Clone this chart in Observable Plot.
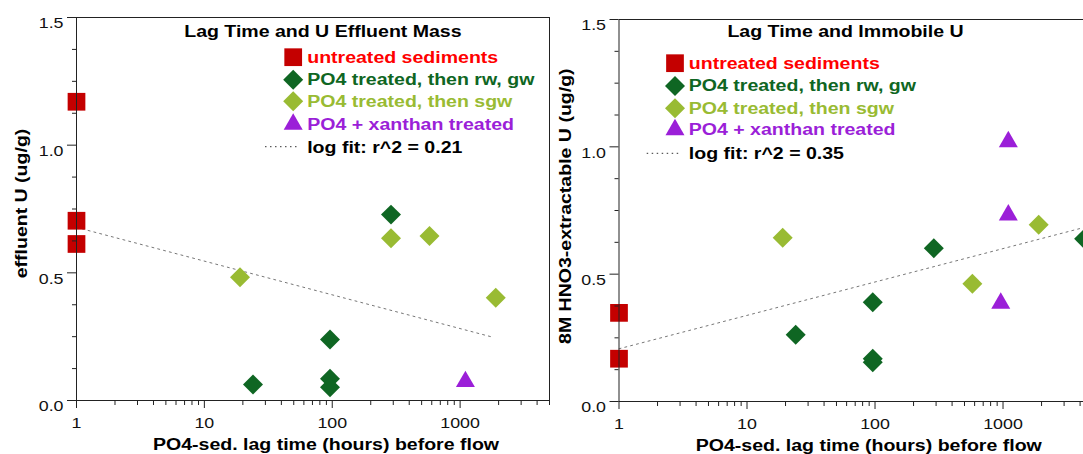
<!DOCTYPE html>
<html><head><meta charset="utf-8">
<script src="https://cdn.jsdelivr.net/npm/d3@7"></script>
<script src="https://cdn.jsdelivr.net/npm/@observablehq/plot@0.6"></script>
<style>
html,body{margin:0;padding:0;background:#fff;overflow:hidden;width:1083px;height:454px;}
#wrap{position:relative;width:1083px;height:454px;overflow:hidden;background:#fff;}
#left{position:absolute;left:0;top:0;width:551px;height:454px;}
#right{position:absolute;left:540px;top:0;width:560px;height:454px;}
#wrap svg{max-width:none !important;background:transparent;}
</style></head><body><div id="wrap"><div id="left"></div><div id="right"></div></div>
<script>
// ---------- shared series definitions ----------
const seriesNames = ["untreated sediments", "PO4 treated, then rw, gw", "PO4 treated, then sgw", "PO4 + xanthan treated"];
const seriesSymbols = ["square", "diamond2", "diamond2", "triangle"];
const markerColors = ["#c40000", "#0f6623", "#99bb33", "#9b1fd8"];
const labelColors = ["#ff0000", "#0f6623", "#99bb33", "#9b1fd8"];

// ---------- left panel: Lag Time and U Effluent Mass ----------
const effUntreatedLag = [1, 1, 1];
const effUntreatedU = [1.170, 0.704, 0.613];
const effRwGwLag = [288, 96, 96, 96, 24];
const effRwGwU = [0.728, 0.239, 0.085, 0.052, 0.063];
const effSgwLag = [19, 288, 576, 1900];
const effSgwU = [0.483, 0.635, 0.644, 0.402];
const effXanLag = [1100];
const effXanU = [0.074];
const effFitLag = [1, 1800];
const effFitU = [0.678, 0.248];
const effFitLabel = "log fit: r^2 = 0.21";

// ---------- right panel: Lag Time and Immobile U ----------
const immUntreatedLag = [1, 1];
const immUntreatedU = [0.348, 0.168];
const immRwGwLag = [24, 96, 96, 96, 288, 4300];
const immRwGwU = [0.262, 0.390, 0.168, 0.154, 0.602, 0.639];
const immSgwLag = [19, 576, 1900];
const immSgwU = [0.643, 0.462, 0.694];
const immXanLag = [1100, 1100, 960];
const immXanU = [1.020, 0.732, 0.386];
const immFitLag = [1, 5000];
const immFitU = [0.207, 0.692];
const immFitLabel = "log fit: r^2 = 0.35";

// ---------- ticks ----------
const yMajor = [0, 0.5, 1.0, 1.5];
const yTickLabels = ["0.0", "0.5", "1.0", "1.5"];
const yMinor = [0.125, 0.25, 0.375, 0.625, 0.75, 0.875, 1.125, 1.25, 1.375];
const xMajor = [1, 10, 100, 1000];
const xTickLabels = ["1", "10", "100", "1000"];
const xMinor = [2, 3, 4, 5, 6, 7, 8, 9, 20, 30, 40, 50, 60, 70, 80, 90,
  200, 300, 400, 500, 600, 700, 800, 900, 2000, 3000, 4000, 5000];
const xDomain = [1, 5000];
const yDomain = [0, 1.5];
const xTitle = "PO4-sed. lag time (hours) before flow";

const FONT = "'Liberation Sans', Arial, Helvetica, sans-serif";
const rBySymbol = {square: 10, diamond2: 9, triangle: 7.05};

function zipRows(xs, ys) { return xs.map((x, i) => ({x, y: ys[i]})); }

function stretchText(svg, k) {
  svg.querySelectorAll("text").forEach(t => {
    if (t.textContent.trim() === "") { t.remove(); return; }
    const tr = t.getAttribute("transform");
    if (tr) t.setAttribute("transform", tr + ` scale(${k},1)`);
    else {
      const x = +t.getAttribute("x") || 0, y = +t.getAttribute("y") || 0;
      t.removeAttribute("x"); t.removeAttribute("y");
      t.setAttribute("transform", `translate(${x},${y}) scale(${k},1)`);
    }
  });
}

function makePanel(p) {
  const marks = [];
  // fit line
  marks.push(Plot.line(zipRows(p.fit[0], p.fit[1]), {x: "x", y: "y", stroke: "#777", strokeWidth: 1, strokeDasharray: "2,4"}));
  // data points
  p.groups.forEach((g, i) => {
    const sym = seriesSymbols[i];
    marks.push(Plot.dot(zipRows(g[0], g[1]), {x: "x", y: "y", symbol: sym, r: rBySymbol[sym], fill: markerColors[i], stroke: "none"}));
  });
  // frame and axes
  marks.push(Plot.frame({stroke: "#222", strokeWidth: 1}));
  marks.push(Plot.axisY(yMajor, {tickSize: 9, tickFormat: () => "", label: null, stroke: "#222"}));
  marks.push(Plot.axisY(yMinor, {tickSize: 4, tickFormat: () => "", label: null, stroke: "#222"}));
  marks.push(Plot.axisX(xMajor, {tickSize: 8, tickFormat: () => "", label: null, stroke: "#222"}));
  marks.push(Plot.axisX(xMinor, {tickSize: 5, tickFormat: () => "", label: null, stroke: "#222"}));
  marks.push(Plot.text(yMajor, {y: d => d, text: (d, i) => yTickLabels[i], frameAnchor: "left", textAnchor: "end", lineAnchor: "middle", dx: -13, dy: 6, fontSize: 15.5, fill: "#111"}));
  marks.push(Plot.text(xMajor, {x: d => d, text: (d, i) => xTickLabels[i], frameAnchor: "bottom", textAnchor: "middle", lineAnchor: "middle", dy: 22.5, fontSize: 15.5, fill: "#111"}));
  // axis titles
  marks.push(Plot.text([p.ylabel], {text: d => d, frameAnchor: "left", textAnchor: "middle", lineAnchor: "middle", rotate: -90, dx: p.ylabelDx, dy: p.ylabelDy, fontSize: 17, fontWeight: "bold", fill: "#000"}));
  marks.push(Plot.text([xTitle], {text: d => d, frameAnchor: "bottom", textAnchor: "middle", lineAnchor: "middle", dx: 13, dy: 44, fontSize: 17, fontWeight: "bold", fill: "#000"}));
  // chart title
  marks.push(Plot.text([p.title], {text: d => d, frameAnchor: "top-left", textAnchor: "middle", lineAnchor: "middle", dx: p.titleDx, dy: p.titleDy, fontSize: 17, fontWeight: "bold", fill: "#000"}));
  // legend
  seriesNames.forEach((name, i) => {
    const sym = seriesSymbols[i];
    marks.push(Plot.dot([name], {frameAnchor: "top-left", dx: p.legSymDx, dy: p.legRows[i], symbol: sym, r: rBySymbol[sym], fill: markerColors[i], stroke: "none"}));
    marks.push(Plot.text([name], {text: d => d, frameAnchor: "top-left", textAnchor: "start", lineAnchor: "middle", dx: p.legTextDx, dy: p.legRows[i], fontSize: 17, fontWeight: "bold", fill: labelColors[i]}));
  });
  marks.push(Plot.text([p.fitLabel], {text: d => d, frameAnchor: "top-left", textAnchor: "start", lineAnchor: "middle", dx: p.legTextDx, dy: p.fitRow, fontSize: 17, fontWeight: "bold", fill: "#000"}));
  const fl = p.fitLine, ml = p.ml, mt = p.mt, fr = p.fitRow;
  marks.push(() => {
    return d3.create("svg:line")
      .attr("x1", ml + fl[0]).attr("x2", ml + fl[1])
      .attr("y1", mt + fr).attr("y2", mt + fr)
      .attr("stroke", "#333").attr("stroke-width", 1).attr("stroke-dasharray", "1.5,3.5")
      .node();
  });

  const svg = Plot.plot({
    width: p.width, height: 454,
    marginLeft: p.ml, marginRight: p.mr, marginTop: p.mt, marginBottom: p.mb,
    x: {type: "log", domain: xDomain, axis: null},
    y: {domain: yDomain, axis: null},
    style: {fontFamily: FONT, fontSize: "15.5px", color: "#222", background: "transparent", overflow: "visible"},
    marks
  });
  stretchText(svg, 1.15);
  return svg;
}

const left = makePanel({
  width: 551, ml: 76, mr: 2, mt: 17, mb: 54,
  title: "Lag Time and U Effluent Mass", titleDx: 246.4, titleDy: 14,
  ylabel: "effluent U (ug/g)", ylabelDx: -55, ylabelDy: -5.5,
  groups: [[effUntreatedLag, effUntreatedU], [effRwGwLag, effRwGwU], [effSgwLag, effSgwU], [effXanLag, effXanU]],
  fit: [effFitLag, effFitU], fitLabel: effFitLabel,
  legSymDx: 216.7, legTextDx: 230.7, legRows: [39.7, 62.2, 83.8, 106.8], fitRow: 129.7, fitLine: [189, 224]
});
document.getElementById("left").appendChild(left);

const right = makePanel({
  width: 554, ml: 78.5, mr: 2, mt: 19, mb: 53,
  title: "Lag Time and Immobile U", titleDx: 226.5, titleDy: 12.5,
  ylabel: "8M HNO3-extractable U (ug/g)", ylabelDx: -53.5, ylabelDy: -4.3,
  groups: [[immUntreatedLag, immUntreatedU], [immRwGwLag, immRwGwU], [immSgwLag, immSgwU], [immXanLag, immXanU]],
  fit: [immFitLag, immFitU], fitLabel: immFitLabel,
  legSymDx: 56, legTextDx: 69.8, legRows: [43.7, 66.5, 88.8, 110.2], fitRow: 134.3, fitLine: [28.2, 63.2]
});
document.getElementById("right").appendChild(right);
</script>
</body></html>
